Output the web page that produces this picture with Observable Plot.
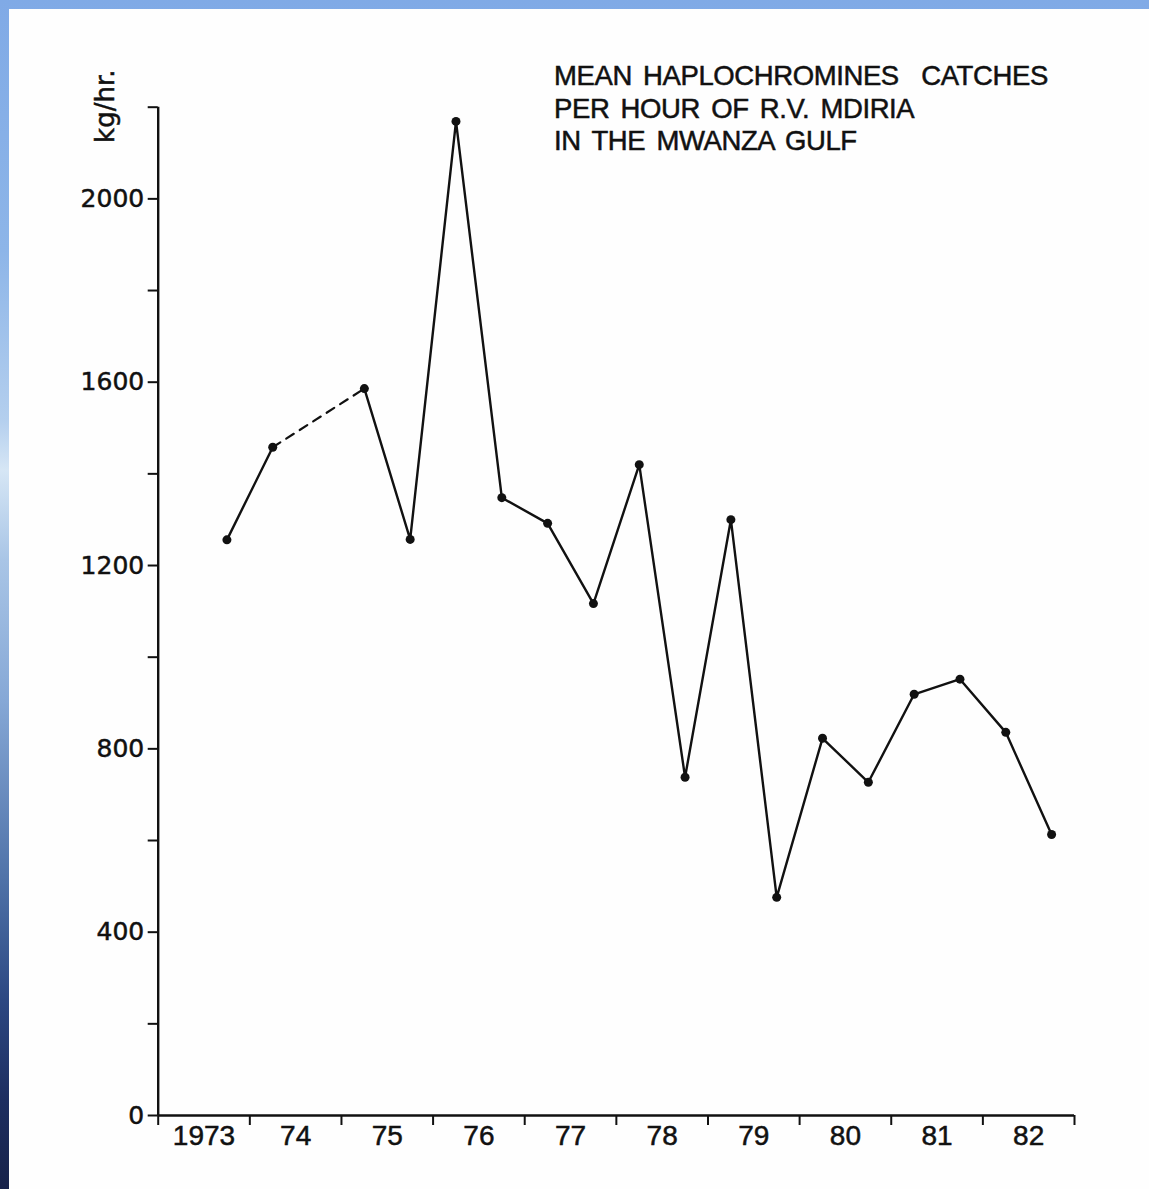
<!DOCTYPE html>
<html>
<head>
<meta charset="utf-8">
<script src="https://cdn.jsdelivr.net/npm/d3@7"></script>
<script src="https://cdn.jsdelivr.net/npm/@observablehq/plot@0.6"></script>
<style>
  html, body { margin: 0; padding: 0; }
  body {
    width: 1149px; height: 1189px; overflow: hidden; position: relative;
    background: linear-gradient(to bottom,
      #80aae6 0px, #8db5e8 250px, #b4cfee 420px, #d6e6f5 470px, #a9c5e6 560px,
      #86a8d6 700px, #4f72a8 880px, #2c4882 1000px, #1d2e60 1100px, #17224a 1189px);
  }
  #page {
    position: absolute; left: 9px; top: 9px; width: 1140px; height: 1180px;
    background: #fefefe;
  }
  #title {
    position: absolute; left: 545px; top: 51px;
    font-family: "Liberation Sans", Arial, sans-serif;
    font-size: 27.5px; line-height: 32.5px; color: #111;
    letter-spacing: -0.4px; word-spacing: 4px;
    -webkit-text-stroke: 0.5px #111;
    white-space: pre;
  }
  #page svg text { stroke: #111; stroke-width: 0.5px; }
</style>
</head>
<body>
<div id="page">
  <div id="title">MEAN HAPLOCHROMINES  CATCHES
PER HOUR OF R.V. MDIRIA
IN THE MWANZA GULF</div>
</div>
<script>
// Mean haplochromine catch rate (kg/hr) of R.V. Mdiria, Mwanza Gulf, by half-year.
// Each value sits at the middle of its half-year; the second half of 1974 has no survey.
const halfYearMid = [1973.75, 1974.25, 1974.75, 1975.25, 1975.75, 1976.25, 1976.75,
  1977.25, 1977.75, 1978.25, 1978.75, 1979.25, 1979.75, 1980.25, 1980.75,
  1981.25, 1981.75, 1982.25, 1982.75];
const catchRate = [1256, 1458, null, 1586, 1257, 2169, 1348,
  1292, 1117, 1420, 738, 1300, 476, 823, 727,
  919, 952, 836, 613];

// Year boundaries on the time axis and the labels centred between them
const yearBounds = [1973, 1974, 1975, 1976, 1977, 1978, 1979, 1980, 1981, 1982, 1983];
const yearLabels = ["1973", "74", "75", "76", "77", "78", "79", "80", "81", "82"];

// Vertical axis: minor ticks every 200, labels every 400
const yTicks = [0, 200, 400, 600, 800, 1000, 1200, 1400, 1600, 1800, 2000, 2200];
const yLabels = [0, 400, 800, 1200, 1600, 2000];

const rows = halfYearMid.map((t, i) => ({t, v: catchRate[i] == null ? NaN : catchRate[i]}));
const observed = rows.filter(d => !isNaN(d.v));

// Dashed bridge across each missing half-year
const bridges = [];
rows.forEach((d, i) => {
  if (isNaN(d.v) && i > 0 && i < rows.length - 1) {
    bridges.push({t: rows[i - 1].t, v: rows[i - 1].v, g: i});
    bridges.push({t: rows[i + 1].t, v: rows[i + 1].v, g: i});
  }
});

const yearMids = yearLabels.map((_, i) => yearBounds[i] + 0.5);
const ink = "#111";

const chart = Plot.plot({
  width: 1140,
  height: 1180,
  marginLeft: 148.7,
  marginRight: 75,
  marginTop: 97.7,
  marginBottom: 74,
  style: {background: "transparent", color: ink, fontFamily: "Liberation Sans, Arial, sans-serif", fontSize: "28px"},
  x: {domain: [yearBounds[0], yearBounds[yearBounds.length - 1]]},
  y: {domain: [0, yTicks[yTicks.length - 1]]},
  marks: [
    // axes lines
    Plot.ruleY([0], {stroke: ink, strokeWidth: 2.4}),
    Plot.ruleX([yearBounds[0]], {stroke: ink, strokeWidth: 2.4}),
    // year boundary ticks
    Plot.axisX(yearBounds, {tickSize: 10, tickFormat: () => "", strokeWidth: 2, stroke: ink, label: null}),
    // year labels
    Plot.axisX(yearMids, {
      tickSize: 0, tickPadding: 10,
      tickFormat: (d) => yearLabels[yearMids.indexOf(d)],
      fontSize: 28, fill: ink, label: null
    }),
    Plot.axisY(yTicks, {
      tickSize: 10, tickPadding: 4, strokeWidth: 2, stroke: ink,
      tickFormat: (d) => yLabels.includes(d) ? String(d) : "",
      fontFamily: "DejaVu Sans, sans-serif", fontSize: 25, fill: ink,
      label: null
    }),
    // unit label, rotated
    Plot.text(["kg/hr."], {
      frameAnchor: "top-left", dx: -53, dy: -1, rotate: -90,
      textAnchor: "middle", lineAnchor: "middle",
      fontFamily: "DejaVu Sans, sans-serif", fontSize: 26, fill: ink
    }),
    // catch series
    Plot.line(bridges, {x: "t", y: "v", z: "g", stroke: ink, strokeWidth: 2.2, strokeDasharray: "9,7"}),
    Plot.line(rows, {x: "t", y: "v", stroke: ink, strokeWidth: 2.4}),
    Plot.dot(observed, {x: "t", y: "v", r: 4.5, fill: ink, stroke: "none"})
  ]
});

document.getElementById("page").appendChild(chart);
</script>
</body>
</html>
